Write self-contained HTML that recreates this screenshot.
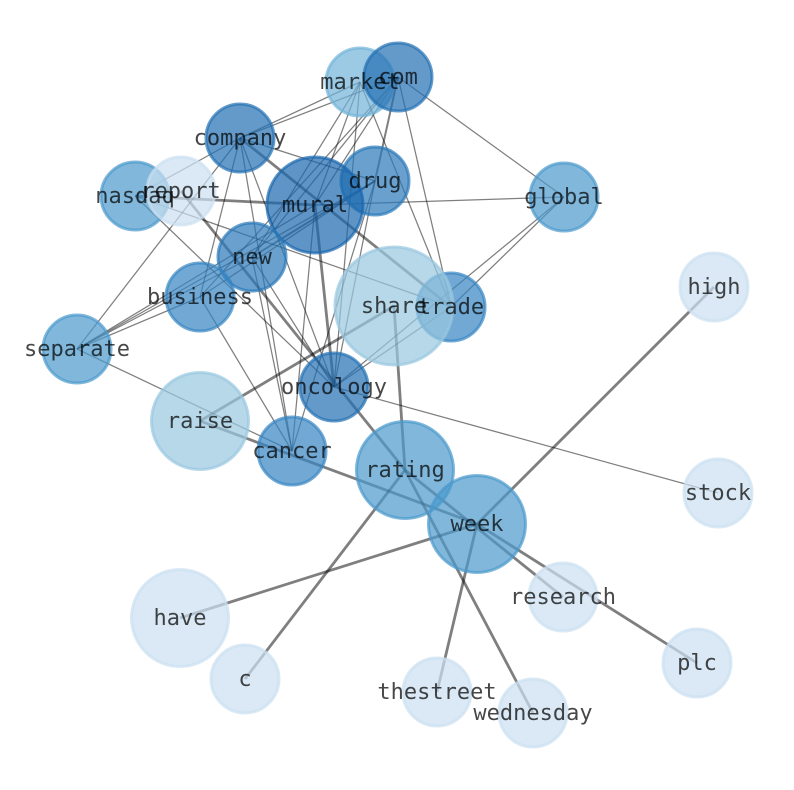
<!DOCTYPE html>
<html><head><meta charset="utf-8"><style>
html,body{margin:0;padding:0;background:#fff;width:794px;height:790px;overflow:hidden}
svg{display:block}
text{font-family:"DejaVu Sans Mono","Liberation Mono",monospace;font-size:22px;fill:#000;fill-opacity:.72;text-anchor:middle}
circle{stroke-width:3}
.d1{fill:#cbdff1;stroke:#cbdff1;fill-opacity:.7;stroke-opacity:.7}
.d2{fill:#98c8e0;stroke:#98c8e0;fill-opacity:.7;stroke-opacity:.7}
.d3{fill:#72b3d8;stroke:#72b3d8;fill-opacity:.7;stroke-opacity:.7}
.d4{fill:#4a99cc;stroke:#4a99cc;fill-opacity:.7;stroke-opacity:.7}
.d5{fill:#3684c2;stroke:#3684c2;fill-opacity:.7;stroke-opacity:.7}
.d6{fill:#2a78b8;stroke:#2a78b8;fill-opacity:.7;stroke-opacity:.7}
.d7{fill:#226fb2;stroke:#226fb2;fill-opacity:.7;stroke-opacity:.7}
.d8{fill:#1a66ae;stroke:#1a66ae;fill-opacity:.7;stroke-opacity:.7}
</style></head><body>
<svg width="794" height="790" viewBox="0 0 794 790" xmlns="http://www.w3.org/2000/svg">
<g stroke="#000" stroke-opacity=".5" stroke-width="1.25" fill="none">
<line x1="240" y1="138" x2="360" y2="82"/>
<line x1="240" y1="138" x2="398" y2="77"/>
<line x1="240" y1="138" x2="375" y2="181"/>
<line x1="240" y1="138" x2="77" y2="349"/>
<line x1="240" y1="138" x2="334" y2="387"/>
<line x1="240" y1="138" x2="292" y2="451"/>
<line x1="240" y1="138" x2="135" y2="196"/>
<line x1="240" y1="138" x2="200" y2="297"/>
<line x1="77" y1="349" x2="252" y2="257"/>
<line x1="77" y1="349" x2="200" y2="297"/>
<line x1="77" y1="349" x2="315" y2="205"/>
<line x1="77" y1="349" x2="375" y2="181"/>
<line x1="77" y1="349" x2="292" y2="451"/>
<line x1="200" y1="297" x2="292" y2="451"/>
<line x1="200" y1="297" x2="398" y2="77"/>
<line x1="200" y1="297" x2="375" y2="181"/>
<line x1="135" y1="196" x2="334" y2="387"/>
<line x1="135" y1="196" x2="451" y2="307"/>
<line x1="315" y1="205" x2="564" y2="197"/>
<line x1="315" y1="205" x2="360" y2="82"/>
<line x1="315" y1="205" x2="398" y2="77"/>
<line x1="315" y1="205" x2="292" y2="451"/>
<line x1="252" y1="257" x2="360" y2="82"/>
<line x1="252" y1="257" x2="398" y2="77"/>
<line x1="252" y1="257" x2="334" y2="387"/>
<line x1="252" y1="257" x2="292" y2="451"/>
<line x1="360" y1="82" x2="334" y2="387"/>
<line x1="360" y1="82" x2="451" y2="307"/>
<line x1="398" y1="77" x2="451" y2="307"/>
<line x1="398" y1="77" x2="564" y2="197"/>
<line x1="564" y1="197" x2="451" y2="307"/>
<line x1="564" y1="197" x2="334" y2="387"/>
<line x1="451" y1="307" x2="334" y2="387"/>
<line x1="375" y1="181" x2="334" y2="387"/>
<line x1="375" y1="181" x2="292" y2="451"/>
<line x1="334" y1="387" x2="718" y2="493"/>
</g>
<g stroke="#000" stroke-opacity=".5" stroke-width="2" fill="none">
<line x1="398" y1="77" x2="375" y2="181"/>
<line x1="375" y1="181" x2="252" y2="257"/>
</g>
<g stroke="#000" stroke-opacity=".5" stroke-width="2.8" fill="none">
<line x1="180" y1="618" x2="477" y2="524"/>
<line x1="245" y1="679" x2="405" y2="470"/>
<line x1="437" y1="692" x2="477" y2="524"/>
<line x1="533" y1="713" x2="405" y2="470"/>
<line x1="697" y1="663" x2="477" y2="524"/>
<line x1="563" y1="597" x2="405" y2="470"/>
<line x1="714" y1="287" x2="477" y2="524"/>
<line x1="200" y1="421" x2="394" y2="306"/>
<line x1="200" y1="421" x2="477" y2="524"/>
<line x1="394" y1="306" x2="405" y2="470"/>
<line x1="181" y1="191" x2="405" y2="470"/>
<line x1="315" y1="205" x2="334" y2="387"/>
<line x1="135" y1="196" x2="315" y2="205"/>
<line x1="240" y1="138" x2="451" y2="307"/>
</g>
<g>
<circle class="d3" cx="360" cy="82" r="34"/>
<circle class="d7" cx="398" cy="77" r="34"/>
<circle class="d7" cx="240" cy="138" r="34"/>
<circle class="d4" cx="135" cy="196" r="34"/>
<circle class="d1" cx="181" cy="191" r="34"/>
<circle class="d6" cx="375" cy="181" r="34"/>
<circle class="d8" cx="315" cy="205" r="48"/>
<circle class="d4" cx="564" cy="197" r="34"/>
<circle class="d6" cx="252" cy="257" r="34"/>
<circle class="d5" cx="200" cy="297" r="34"/>
<circle class="d5" cx="451" cy="307" r="34"/>
<circle class="d2" cx="394" cy="306" r="59"/>
<circle class="d4" cx="77" cy="349" r="34"/>
<circle class="d7" cx="334" cy="387" r="34"/>
<circle class="d1" cx="714" cy="287" r="34"/>
<circle class="d2" cx="200" cy="421" r="48.5"/>
<circle class="d5" cx="292" cy="451" r="34"/>
<circle class="d4" cx="405" cy="470" r="48.5"/>
<circle class="d4" cx="477" cy="524" r="48.5"/>
<circle class="d1" cx="718" cy="493" r="34"/>
<circle class="d1" cx="563" cy="597" r="34"/>
<circle class="d1" cx="180" cy="618" r="48.5"/>
<circle class="d1" cx="245" cy="679" r="34"/>
<circle class="d1" cx="437" cy="692" r="34"/>
<circle class="d1" cx="533" cy="713" r="34"/>
<circle class="d1" cx="697" cy="663" r="34"/>
</g>
<g>
<text x="360" y="89">market</text>
<text x="398" y="84">com</text>
<text x="240" y="145">company</text>
<text x="135" y="203">nasdaq</text>
<text x="181" y="198">report</text>
<text x="375" y="188">drug</text>
<text x="315" y="212">mural</text>
<text x="564" y="204">global</text>
<text x="252" y="264">new</text>
<text x="200" y="304">business</text>
<text x="394" y="313">share</text>
<text x="451" y="314">trade</text>
<text x="77" y="356">separate</text>
<text x="334" y="394">oncology</text>
<text x="714" y="294">high</text>
<text x="200" y="428">raise</text>
<text x="292" y="458">cancer</text>
<text x="405" y="477">rating</text>
<text x="477" y="531">week</text>
<text x="718" y="500">stock</text>
<text x="563" y="604">research</text>
<text x="180" y="625">have</text>
<text x="245" y="686">c</text>
<text x="437" y="699">thestreet</text>
<text x="533" y="720">wednesday</text>
<text x="697" y="670">plc</text>
</g>
</svg>
</body></html>
